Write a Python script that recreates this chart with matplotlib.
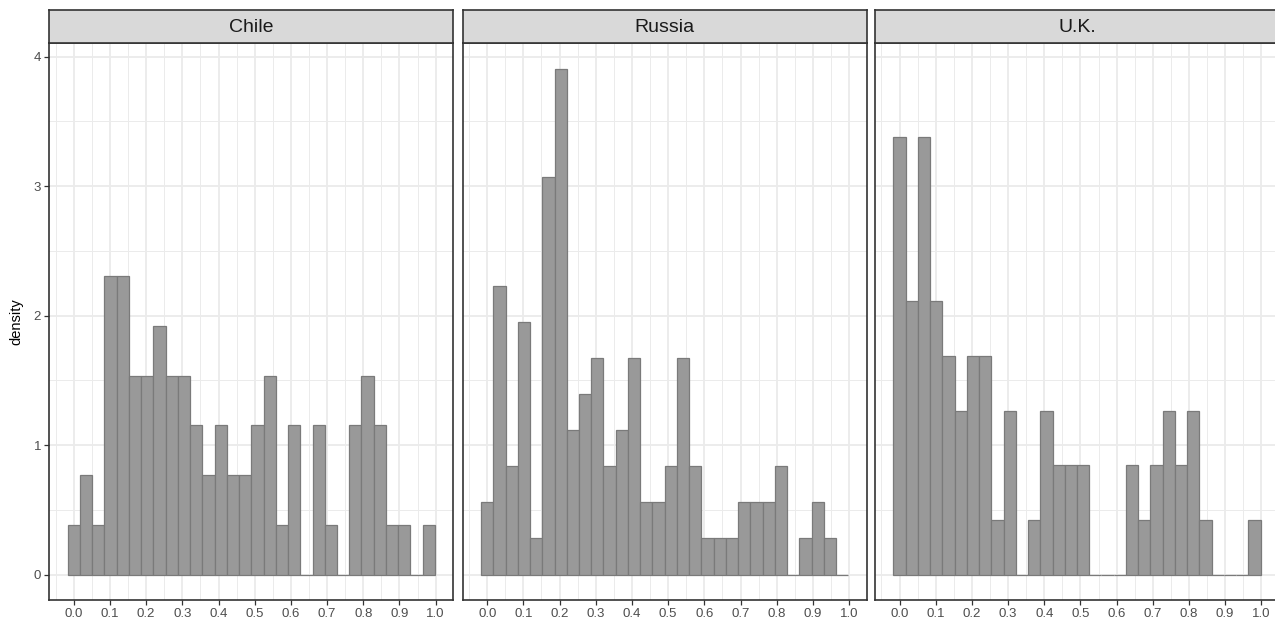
import numpy as np
import matplotlib.pyplot as plt
from matplotlib.ticker import MultipleLocator

plt.rcParams['font.family'] = ['Liberation Sans', 'DejaVu Sans']

countries = ["Chile", "Russia", "U.K."]

# counts per bin (30 bins, same breaks for every panel)
chile_counts = [1, 2, 1, 6, 6, 4, 4, 5, 4, 4, 3, 2, 3, 2, 2,
                3, 4, 1, 3, 0, 3, 1, 0, 3, 4, 3, 1, 1, 0, 1]
russia_counts = [2, 8, 3, 7, 1, 11, 14, 4, 5, 6, 3, 4, 6, 2, 2,
                 3, 6, 3, 1, 1, 1, 2, 2, 2, 3, 0, 1, 2, 1, 0]
uk_counts = [8, 5, 8, 5, 4, 3, 4, 4, 1, 3, 0, 1, 3, 2, 2,
             2, 0, 0, 0, 2, 1, 2, 3, 2, 3, 1, 0, 0, 0, 1]

x_max = 0.981
n_bins = 30
bin_width = x_max / (n_bins - 1)
centers = np.arange(n_bins) * bin_width

W, H = 1275, 619
fig = plt.figure(figsize=(W / 100, H / 100), dpi=100)

panel_left = [49.3, 462.7, 875.0]
panel_w = 404.0
panel_top, panel_bottom = 42.7, 600.0
strip_top = 10.3

xlim = (-bin_width / 2 - 0.0508, x_max + bin_width / 2 + 0.0508)
ylim = (-0.196, 4.107)

border = "#333333"
grid_col = "#EBEBEB"

for i, (name, counts) in enumerate(zip(countries, [chile_counts, russia_counts, uk_counts])):
    counts = np.array(counts, dtype=float)
    density = counts / (counts.sum() * bin_width)

    x0 = panel_left[i] / W
    ax = fig.add_axes([x0, 1 - panel_bottom / H, panel_w / W, (panel_bottom - panel_top) / H])
    ax.bar(centers, density, width=bin_width, color="#999999", edgecolor="#7a7a7a",
           linewidth=0.9, zorder=3)

    ax.set_xlim(*xlim)
    ax.set_ylim(*ylim)
    ax.xaxis.set_minor_locator(MultipleLocator(0.05))
    ax.yaxis.set_minor_locator(MultipleLocator(0.5))
    ticks = np.round(np.arange(0, 1.01, 0.1), 1)
    ax.set_xticks(ticks)
    ax.set_xticklabels([f"{v:.1f}" for v in ticks])
    ax.set_yticks([0, 1, 2, 3, 4])
    ax.grid(which="major", color=grid_col, linewidth=1.3, zorder=0)
    ax.grid(which="minor", color=grid_col, linewidth=0.7, zorder=0)
    ax.set_axisbelow(True)

    for s in ax.spines.values():
        s.set_color(border)
        s.set_linewidth(1.2)

    ax.tick_params(which="minor", length=0)
    ax.tick_params(which="major", length=3.5, width=0.9, color=border,
                   labelcolor="#4D4D4D", labelsize=9.5, pad=2.5)
    if i == 0:
        ax.set_ylabel("density", fontsize=10.5, labelpad=7)
    else:
        ax.tick_params(axis="y", which="both", left=False, labelleft=False)

    # facet strip
    sax = fig.add_axes([x0, 1 - panel_top / H, panel_w / W, (panel_top - strip_top) / H])
    sax.set_facecolor("#D9D9D9")
    sax.set_xticks([])
    sax.set_yticks([])
    for s in sax.spines.values():
        s.set_color(border)
        s.set_linewidth(1.2)
    sax.text(0.5, 0.48, name, ha="center", va="center", fontsize=14,
             color="#1A1A1A", transform=sax.transAxes)

fig.savefig("out.png", dpi=100)
